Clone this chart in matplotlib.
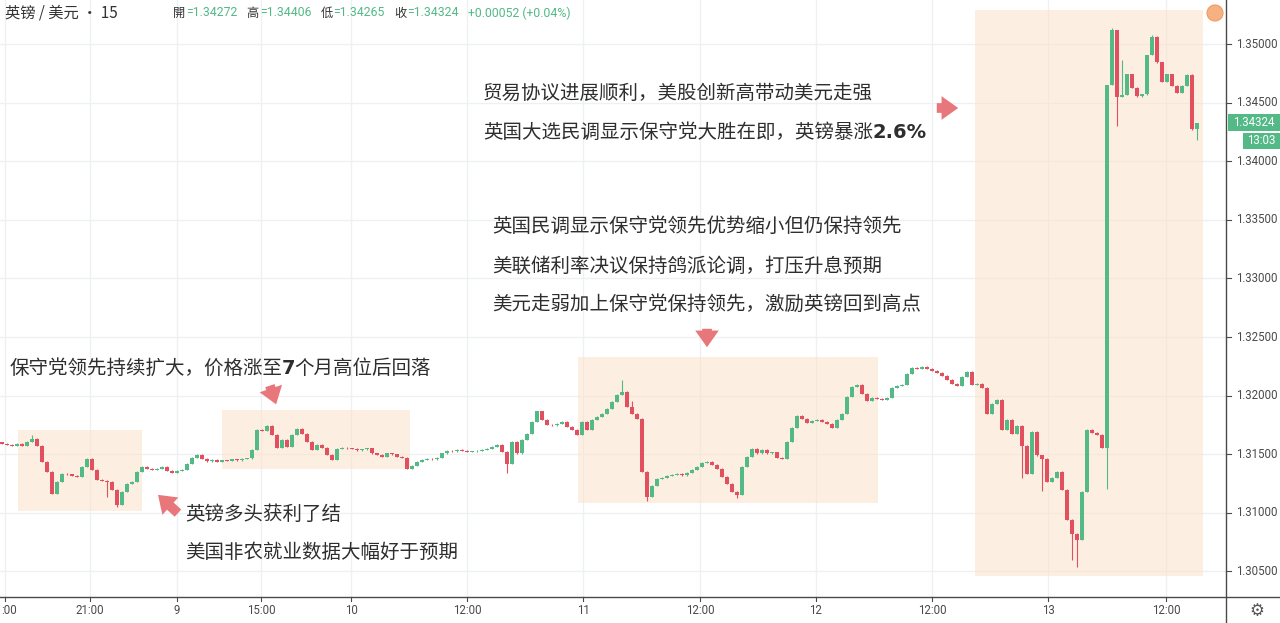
import matplotlib
matplotlib.use('Agg')
import matplotlib.pyplot as plt
from matplotlib.patches import Rectangle
import numpy as np

# ---------------- data (15-min GBP/USD closes) ----------------
closes = [
    1.31591, 1.31582, 1.31574, 1.31591, 1.31574, 1.31608, 1.31633, 1.31574, 1.31437, 1.31352,
    1.31164, 1.31266, 1.31335, 1.31330, 1.31318, 1.31309, 1.31394, 1.31463, 1.31369, 1.31283,
    1.31275, 1.31266, 1.31198, 1.31070, 1.31181, 1.31249, 1.31266, 1.31352, 1.31394, 1.31377,
    1.31369, 1.31377, 1.31394, 1.31360, 1.31343, 1.31360, 1.31369, 1.31420, 1.31471, 1.31497,
    1.31463, 1.31440, 1.31452, 1.31437, 1.31448, 1.31442, 1.31456, 1.31450, 1.31460, 1.31466,
    1.31540, 1.31710, 1.31700, 1.31744, 1.31667, 1.31557, 1.31625, 1.31565, 1.31667, 1.31718,
    1.31676, 1.31608, 1.31540, 1.31582, 1.31557, 1.31497, 1.31454, 1.31548, 1.31557, 1.31550,
    1.31548, 1.31535, 1.31542, 1.31552, 1.31506, 1.31497, 1.31480, 1.31506, 1.31500, 1.31480,
    1.31471, 1.31377, 1.31403, 1.31437, 1.31454, 1.31463, 1.31458, 1.31471, 1.31506, 1.31531,
    1.31525, 1.31540, 1.31531, 1.31520, 1.31526, 1.31531, 1.31538, 1.31548, 1.31565, 1.31582,
    1.31523, 1.31420, 1.31608, 1.31506, 1.31625, 1.31676, 1.31778, 1.31865, 1.31795, 1.31753,
    1.31745, 1.31761, 1.31778, 1.31736, 1.31710, 1.31667, 1.31778, 1.31710, 1.31795, 1.31821,
    1.31846, 1.31889, 1.31949, 1.32009, 1.32034, 1.31906, 1.31846, 1.31804, 1.31352, 1.31138,
    1.31232, 1.31292, 1.31300, 1.31318, 1.31326, 1.31335, 1.31322, 1.31343, 1.31369, 1.31394,
    1.31428, 1.31437, 1.31411, 1.31377, 1.31309, 1.31249, 1.31181, 1.31155, 1.31394, 1.31480,
    1.31548, 1.31506, 1.31540, 1.31506, 1.31515, 1.31471, 1.31463, 1.31608, 1.31727, 1.31829,
    1.31804, 1.31770, 1.31787, 1.31795, 1.31778, 1.31761, 1.31727, 1.31795, 1.31846, 1.31991,
    1.32077, 1.32094, 1.32017, 1.31957, 1.31983, 1.31974, 1.31966, 1.31983, 1.32068, 1.32085,
    1.32094, 1.32188, 1.32239, 1.32230, 1.32247, 1.32230, 1.32213, 1.32196, 1.32171, 1.32136,
    1.32102, 1.32085, 1.32162, 1.32205, 1.32094, 1.32102, 1.32068, 1.31846, 1.31932, 1.31966,
    1.31710, 1.31795, 1.31676, 1.31744, 1.31574, 1.31335, 1.31693, 1.31489, 1.31463, 1.31266,
    1.31300, 1.31352, 1.31198, 1.30942, 1.30823, 1.30772, 1.31181, 1.31710, 1.31684, 1.31667,
    1.31557, 1.34650, 1.35119, 1.34548, 1.34565, 1.34744, 1.34625, 1.34556, 1.34573, 1.34906,
    1.35060, 1.34846, 1.34676, 1.34744, 1.34642, 1.34582, 1.34642, 1.34736, 1.34272, 1.34324,
]
first_open = 1.31600
wick_high = {6: 1.31660, 124: 1.32136, 126: 1.31950, 222: 1.35137, 223: 1.34863,
             224: 1.34863, 230: 1.35080}
wick_low = {21: 1.31138, 23: 1.31050, 101: 1.31343, 129: 1.31100, 147: 1.31130,
            204: 1.31300, 208: 1.31190, 214: 1.30600, 215: 1.30538, 221: 1.31200,
            223: 1.34300, 239: 1.34181}

x_tick_bars = [0.6, 17.6, 35.0, 51.8, 69.8, 93.0, 116.2, 139.6, 162.8, 186.0, 209.2, 232.8]
x_tick_labels = [':00', '21:00', '9', '15:00', '10', '12:00', '11', '12:00', '12', '12:00', '13', '12:00']
y_ticks = [1.305, 1.310, 1.315, 1.320, 1.325, 1.330, 1.335, 1.340, 1.345, 1.350]

# highlight boxes: (bar_start, bar_end, price_low, price_high)
boxes = [(3.2, 28.0, 1.31015, 1.31707),
         (44.0, 81.6, 1.31374, 1.31877),
         (115.2, 175.2, 1.31084, 1.32329),
         (194.6, 240.2, 1.30461, 1.35290)]

header_title = '英镑 / 美元 · 15'
ohlc_parts = [('開', '=1.34272'), ('高', '=1.34406'), ('低', '=1.34265'), ('收', '=1.34324')]
change_text = '+0.00052 (+0.04%)'
last_price = '1.34324'
countdown = '13:03'

# notes: (x px, y px, [(segment, bold?) ...])
notes = [
    (10, 368, [('保守党领先持续扩大，价格涨至', False), ('7', True), ('个月高位后回落', False)]),
    (185, 514, [('英镑多头获利了结', False)]),
    (185, 552, [('美国非农就业数据大幅好于预期', False)]),
    (492, 226, [('英国民调显示保守党领先优势缩小但仍保持领先', False)]),
    (492, 266, [('美联储利率决议保持鸽派论调，打压升息预期', False)]),
    (492, 304, [('美元走弱加上保守党保持领先，激励英镑回到高点', False)]),
    (483, 93, [('贸易协议进展顺利，美股创新高带动美元走强', False)]),
    (483, 132, [('英国大选民调显示保守党大胜在即，英镑暴涨', False), ('2.6%', True)]),
]
# arrows: (tail x, tail y, head x, head y) in pixels from top-left
arrows = [(269, 383, 277, 407), (180, 515, 156, 493), (707, 326, 707, 350), (934, 108, 961, 108)]

# ---------------- figure ----------------
W, H = 1280, 623
fig = plt.figure(figsize=(W / 100, H / 100), dpi=100)
fig.patch.set_facecolor('white')
CJK = ['Noto Sans CJK SC', 'DejaVu Sans']

ax_l, ax_r, ax_b = 0, 1226, 597
ax = fig.add_axes([ax_l / W, (H - ax_b) / H, (ax_r - ax_l) / W, ax_b / H])
ax.set_facecolor('white')

x_left = (0 - 2) / 5
x_right = (1226 - 2) / 5
y_top = 1.35 + 44 / 11720
y_bot = 1.35 - 553 / 11720
ax.set_xlim(x_left, x_right)
ax.set_ylim(y_bot, y_top)

# grid
for t in y_ticks:
    ax.axhline(t, color='#eef0f3', lw=1, zorder=0)
for t in x_tick_bars:
    ax.axvline(t, color='#eef0f3', lw=1, zorder=0)

# boxes
for x0, x1, p0, p1 in boxes:
    ax.add_patch(Rectangle((x0, p0), x1 - x0, p1 - p0, facecolor='#fbe1c8', alpha=0.55,
                           edgecolor='none', zorder=1))

# candles
closes_a = np.array(closes)
opens_a = np.concatenate([[first_open], closes_a[:-1]])
idx = np.arange(len(closes_a))
up = closes_a >= opens_a
col = np.where(up, '#53b987', '#e2505f')
base = 0.00004
highs = np.maximum(opens_a, closes_a) + base
lows = np.minimum(opens_a, closes_a) - base
for k, v in wick_high.items():
    highs[k] = max(highs[k], v)
for k, v in wick_low.items():
    lows[k] = min(lows[k], v)
ax.vlines(idx, lows, highs, colors=col, lw=0.8, zorder=2)
body_bot = np.minimum(opens_a, closes_a)
body_h = np.maximum(np.abs(closes_a - opens_a), 0.00003)
ax.bar(idx, body_h, bottom=body_bot, width=0.62, color=col, linewidth=0, zorder=3)

for s in ['top', 'left', 'bottom', 'right']:
    ax.spines[s].set_visible(False)
ax.set_xticks([])
ax.set_yticks([])

# separator lines
fig.add_artist(plt.Line2D([0, 1], [(H - ax_b) / H] * 2, color='#4a4a4a', lw=1))
fig.add_artist(plt.Line2D([ax_r / W] * 2, [0, 1], color='#4a4a4a', lw=1))

# right price labels
for t in y_ticks:
    yp = 44 + (1.35 - t) * 11720
    fy = 1 - yp / H
    fig.add_artist(plt.Line2D([ax_r / W, (ax_r + 5) / W], [fy, fy], color='#4a4a4a', lw=0.8))
    fig.text(1236 / W, fy, f'{t:.5f}', ha='left', va='center', fontsize=8.3,
             family='Roboto', color='#4a4a4a')

# bottom time labels
renderer = fig.canvas.get_renderer()
for b, lab in zip(x_tick_bars, x_tick_labels):
    xp = 2 + 5 * b
    fx = xp / W
    fig.add_artist(plt.Line2D([fx, fx], [(H - ax_b) / H, (H - ax_b - 4) / H], color='#4a4a4a', lw=0.8))
    if lab == ':00':
        fig.text(1 / W, 1 - 611 / H, lab, ha='left', va='center', fontsize=8.3,
                 family='Roboto', color='#4a4a4a')
    else:
        fig.text(fx, 1 - 611 / H, lab, ha='center', va='center', fontsize=8.3,
                 family='Roboto', color='#4a4a4a')

# gear icon
fig.text(1257 / W, 1 - 611 / H, '⚙', ha='center', va='center', fontsize=12,
         family='DejaVu Sans', color='#555555')

# last price boxes
fig.add_artist(Rectangle((1228 / W, 1 - 131 / H), 52 / W, 17 / H, transform=fig.transFigure,
                         facecolor='#53b987', edgecolor='none'))
fig.text(1254 / W, 1 - 122.5 / H, last_price, ha='center', va='center', fontsize=8.3,
         family='Roboto', color='white')
fig.add_artist(Rectangle((1243 / W, 1 - 149 / H), 37 / W, 16 / H, transform=fig.transFigure,
                         facecolor='#53b987', edgecolor='none'))
fig.text(1261 / W, 1 - 141 / H, countdown, ha='center', va='center', fontsize=8.3,
         family='Roboto', color='white')

# orange marker
fig.add_artist(matplotlib.patches.Ellipse((1215 / W, 1 - 13 / H), 16 / W, 16 / H,
                                          transform=fig.transFigure, facecolor='#f6b183',
                                          edgecolor='#f09a5e', lw=0.8))

# header
fig.text(5 / W, 1 - 13 / H, header_title, ha='left', va='center', fontsize=11,
         family=CJK, color='#333333')
x = 173
for lab, val in ohlc_parts:
    t = fig.text(x / W, 1 - 13 / H, lab, ha='left', va='center', fontsize=8.8,
                 family=CJK, color='#333333')
    x = t.get_window_extent(renderer).x1 + 1
    t = fig.text(x / W, 1 - 13 / H, val, ha='left', va='center', fontsize=8.8,
                 family='Roboto', color='#53b987')
    x = t.get_window_extent(renderer).x1 + 9
fig.text(x / W, 1 - 13 / H, change_text, ha='left', va='center', fontsize=8.8,
         family='Roboto', color='#53b987')

# annotations
for xp, yp, segs in notes:
    x = xp
    for s, bold in segs:
        t = fig.text(x / W, 1 - yp / H, s, ha='left', va='center', fontsize=14,
                     family=(['DejaVu Sans'] if bold else CJK), color='#2e2e2e',
                     weight=('bold' if bold else 'normal'))
        x = t.get_window_extent(renderer).x1 - 1

for x0, y0, x1, y1 in arrows:
    fig.add_artist(matplotlib.patches.FancyArrowPatch(
        (x0 / W, 1 - y0 / H), (x1 / W, 1 - y1 / H), transform=fig.transFigure,
        arrowstyle='simple,head_width=17,head_length=12,tail_width=7',
        color='#e8777c', mutation_scale=1, lw=0))

fig.savefig('out.png', dpi=100, facecolor='white')
